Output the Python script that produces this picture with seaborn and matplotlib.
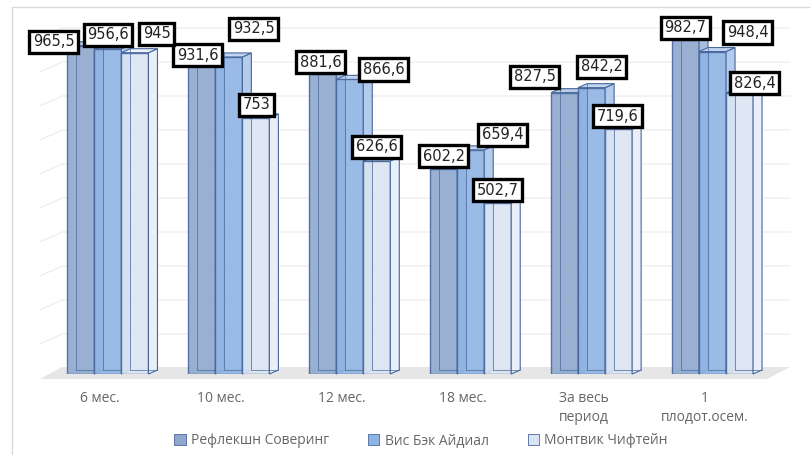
import numpy as np
import pandas as pd
import matplotlib
matplotlib.use('Agg')
import matplotlib.pyplot as plt
import seaborn as sns
from matplotlib.patches import Polygon, Patch
from matplotlib.lines import Line2D
from matplotlib.transforms import ScaledTranslation

# data
periods = ['6 мес.', '10 мес.', '12 мес.', '18 мес.', 'За весь\nпериод', '1\nплодот.осем.']
varieties = ['Рефлекшн Соверинг', 'Вис Бэк Айдиал', 'Монтвик Чифтейн']
reflection = [965.5, 931.6, 881.6, 602.2, 827.5, 982.7]
vis_back = [956.6, 932.5, 866.6, 659.4, 842.2, 948.4]
montvik = [945.0, 753.0, 626.6, 502.7, 719.6, 826.4]

# label offsets (pixels, relative to the top centre of each bar)
label_off = [
    [(-27, 4), (-4, 2), (-2, 12), (0, 13), (-30, 16), (0, 12)],
    [(0, 14), (25, 28), (34, 10), (32, 15), (10, 21), (35, 19)],
    [(22, 19), (1, 13), (0, 14), (0, 13), (-1, 13), (15, 10)],
]

front_colors = ['#8ea8cd', '#8fb4e3', '#dbe5f2']
side_colors = ['#a9bddb', '#b3cbec', '#e9eff8']
top_colors = ['#b9cae3', '#c3d6f0', '#eef3fa']
edge = '#47679c'

df = pd.DataFrame({
    'period': np.tile(periods, 3),
    'variety': np.repeat(varieties, len(periods)),
    'value': reflection + vis_back + montvik,
})

sns.set_theme(style='white')
plt.rcParams['font.family'] = ['Open Sans', 'DejaVu Sans']

W, H = 810, 455
fig = plt.figure(figsize=(W / 100, H / 100), dpi=100)
ax_left, ax_right, ax_bottom, ax_top = 47.5, 773.0, 374.0, 34.0
ax = fig.add_axes([ax_left / W, (H - ax_bottom) / H,
                   (ax_right - ax_left) / W, (ax_bottom - ax_top) / H])

sns.barplot(data=df, x='period', y='value', hue='variety', palette=front_colors,
            width=0.67, ax=ax, legend=False, saturation=1, edgecolor=edge, linewidth=1)
ax.set_xlim(-0.5, 5.5)
ax.set_ylim(0, 1000)

# pixel -> data conversions
ux = 6 / (ax_right - ax_left)
uy = 1000 / (ax_bottom - ax_top)
dx, dy = 9 * ux, 4 * uy

# floor and back wall grid
floor = Polygon([(-0.5625, -5 * uy), (5.451, -5 * uy), (5.641, 7 * uy), (-0.38, 7 * uy)],
                closed=True, fc='#e6e6e6', ec='none', zorder=0.5, clip_on=False)
ax.add_patch(floor)
for v in range(100, 1001, 100):
    ax.plot([-0.5625, -0.38, 5.641], [v - 4 * uy, v + 6 * uy, v + 6 * uy],
            color='#ededed', lw=0.9, zorder=0.4, clip_on=False)

# 3d faces for every bar
for h, cont in enumerate(ax.containers):
    for g, bar in enumerate(cont.patches):
        x0, w, hv = bar.get_x(), bar.get_width(), bar.get_height()
        z = 2 + h
        bar.set_zorder(z)
        bar.set_alpha(0.9)
        side = Polygon([(x0 + w, 0), (x0 + w + dx, dy), (x0 + w + dx, hv + dy), (x0 + w, hv)],
                       closed=True, fc=side_colors[h], ec=edge, lw=0.8, zorder=z, clip_on=False)
        top = Polygon([(x0, hv), (x0 + w, hv), (x0 + w + dx, hv + dy), (x0 + dx, hv + dy)],
                      closed=True, fc=top_colors[h], ec=edge, lw=0.8, zorder=z, clip_on=False)
        ax.add_patch(side)
        ax.add_patch(top)
        ax.plot([x0 + dx, x0 + dx, x0 + w + dx], [hv + dy, dy, dy],
                color=edge, lw=0.7, alpha=0.7, zorder=z + 0.1, clip_on=False)
        ox, oy = label_off[h][g]
        txt = f'{hv:g}'.replace('.', ',')
        ax.annotate(txt, xy=(x0 + w / 2, hv), xytext=(ox * 0.72, oy * 0.72),
                    textcoords='offset points', ha='center', va='center',
                    fontsize=10.5, family='DejaVu Sans', color='#222222', zorder=10,
                    bbox=dict(boxstyle='square,pad=0.25', fc='white', ec='black', lw=2.4),
                    annotation_clip=False)

for s in ax.spines.values():
    s.set_visible(False)
ax.set_yticks([])
ax.set_xlabel('')
ax.set_ylabel('')
ax.tick_params(axis='x', length=0, pad=12, labelsize=10, labelcolor='#666666')
ax.set_xticks(range(len(periods)))
ax.set_xticklabels(periods, linespacing=1.35)
shift = ScaledTranslation(-8 / 100, 0, fig.dpi_scale_trans)
for lab in ax.get_xticklabels():
    lab.set_transform(lab.get_transform() + shift)

handles = [Patch(fc=front_colors[i], ec=edge, lw=0.6) for i in range(3)]
fig.legend(handles, varieties, loc='center', bbox_to_anchor=(0.52, 1 - 441 / H), ncol=3,
           frameon=False, fontsize=10, labelcolor='#666666', handlelength=0.8,
           handleheight=0.8, handletextpad=0.4, columnspacing=2.8)

# chart area border
fig.add_artist(Line2D([12 / W, 12 / W], [0, 1 - 7 / H], color='#d9d9d9', lw=1))
fig.add_artist(Line2D([12 / W, 1], [1 - 7 / H, 1 - 7 / H], color='#d9d9d9', lw=1))

fig.savefig('out.png', dpi=100)
